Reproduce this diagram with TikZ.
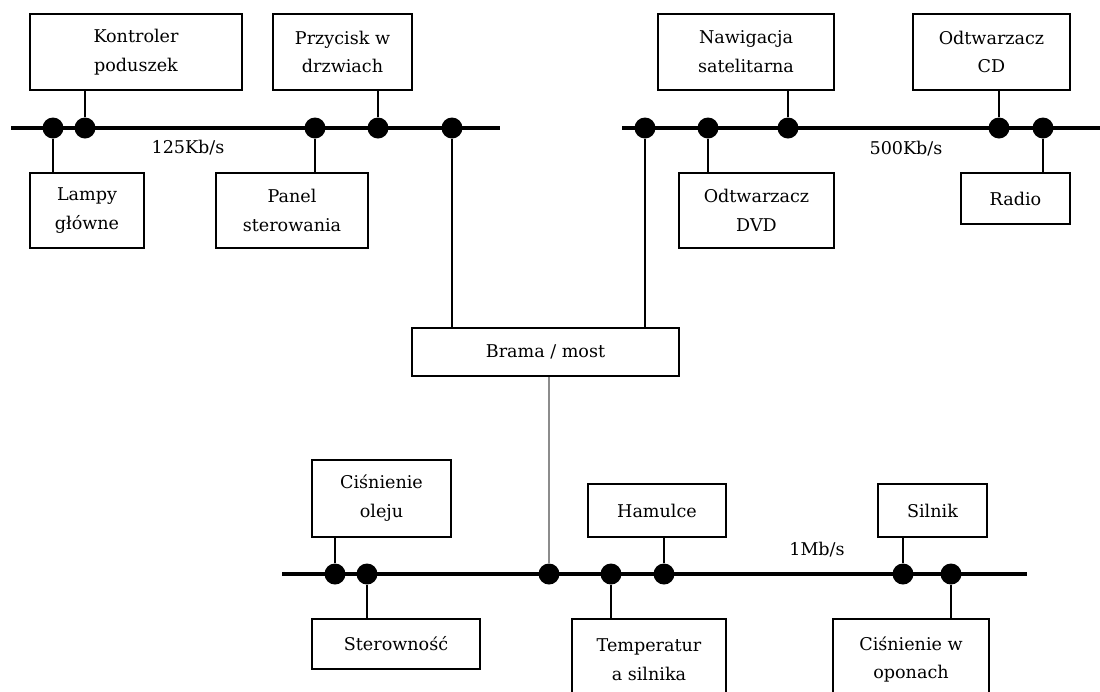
\documentclass[tikz,border=0pt]{standalone}
\usepackage{fontspec}
\setmainfont{DejaVu Serif}
\usetikzlibrary{backgrounds}

\begin{document}
\begin{tikzpicture}[
  x=0.02cm, y=-0.02cm,
  box/.style={draw, line width=0.7pt, align=center, inner sep=2pt,
    font=\fontsize{10}{16.4}\selectfont},
  dims/.style 2 args={minimum width=#1*0.02cm, minimum height=#2*0.02cm},
  dot/.style={circle, fill=black, inner sep=0pt, minimum size=0.42cm},
  bus/.style={line width=2.8pt},
  link/.style={line width=0.8pt},
  glink/.style={line width=1.2pt, color=black!45},
  rate/.style={font=\fontsize{10}{12}\selectfont},
]
\clip (0,0) rectangle (1100,691);

% Bus 125Kb/s
\node[box, dims={212}{76}] (kont) at (136,52) {Kontroler\\poduszek};
\node[box, dims={139}{76}] (przy) at (342.5,52) {Przycisk w\\drzwiach};
\node[box, dims={114}{75}] (lamp) at (87,210.5) {Lampy\\główne};
\node[box, dims={152}{75}] (panel) at (292,210.5) {Panel\\sterowania};
\node[rate] (r125) at (188,148) {125Kb/s};

% Bus 500Kb/s
\node[box, dims={176}{76}] (nawi) at (746,52) {Nawigacja\\satelitarna};
\node[box, dims={157}{76}] (cd) at (991.5,52) {Odtwarzacz\\CD};
\node[box, dims={155}{75}] (dvd) at (756.5,210.5) {Odtwarzacz\\DVD};
\node[box, dims={109}{51}] (radio) at (1015.5,198.5) {Radio};
\node[rate] (r500) at (906,149) {500Kb/s};

% Gateway
\node[box, dims={267}{48}] (brama) at (545.5,352) {Brama / most};

% Bus 1Mb/s
\node[box, dims={139}{77}] (olej) at (381.5,498.5) {Ciśnienie\\oleju};
\node[box, dims={138}{53}] (ham) at (657,510.5) {Hamulce};
\node[box, dims={109}{53}] (siln) at (932.5,510.5) {Silnik};
\node[box, dims={168}{50}] (ster) at (396,644) {Sterowność};
\node[box, dims={154}{81}] (temp) at (649,659.5) {Temperatur\\a silnika};
\node[box, dims={156}{81}] (opon) at (911,659.5) {Ciśnienie w\\oponach};
\node[rate] (r1m) at (817,550) {1Mb/s};

% Bus ends
\coordinate (b1w) at (11,128);
\coordinate (b1e) at (500,128);
\coordinate (b2w) at (622,128);
\coordinate (b2e) at (1105,128);
\coordinate (b3w) at (282,574);
\coordinate (b3e) at (1027,574);

% Taps
\foreach \n/\x/\y in {d1a/53/128, d1b/85/128, d1c/315/128, d1d/378/128, d1e/452/128,
  d2a/645/128, d2b/708/128, d2c/788/128, d2d/999/128, d2e/1043/128,
  d3a/335/574, d3b/367/574, d3c/549/574, d3d/611/574, d3e/664/574,
  d3f/903/574, d3g/951/574}
  \node[dot] (\n) at (\x,\y) {};

\begin{scope}[on background layer]
\draw[bus] (b1w) -- (b1e);
\draw[bus] (b2w) -- (b2e);
\draw[bus] (b3w) -- (b3e);

\draw[link] (d1a) -- (d1a |- lamp.north);
\draw[link] (d1b) -- (d1b |- kont.south);
\draw[link] (d1c) -- (d1c |- panel.north);
\draw[link] (d1d) -- (d1d |- przy.south);
\draw[link] (d1e) -- (d1e |- brama.north);

\draw[link] (d2a) -- (d2a |- brama.north);
\draw[link] (d2b) -- (d2b |- dvd.north);
\draw[link] (d2c) -- (d2c |- nawi.south);
\draw[link] (d2d) -- (d2d |- cd.south);
\draw[link] (d2e) -- (d2e |- radio.north);

\draw[glink] (d3c |- brama.south) -- (d3c);
\draw[link] (d3a) -- (d3a |- olej.south);
\draw[link] (d3b) -- (d3b |- ster.north);
\draw[link] (d3d) -- (d3d |- temp.north);
\draw[link] (d3e) -- (d3e |- ham.south);
\draw[link] (d3f) -- (d3f |- siln.south);
\draw[link] (d3g) -- (d3g |- opon.north);
\end{scope}

\end{tikzpicture}
\end{document}
